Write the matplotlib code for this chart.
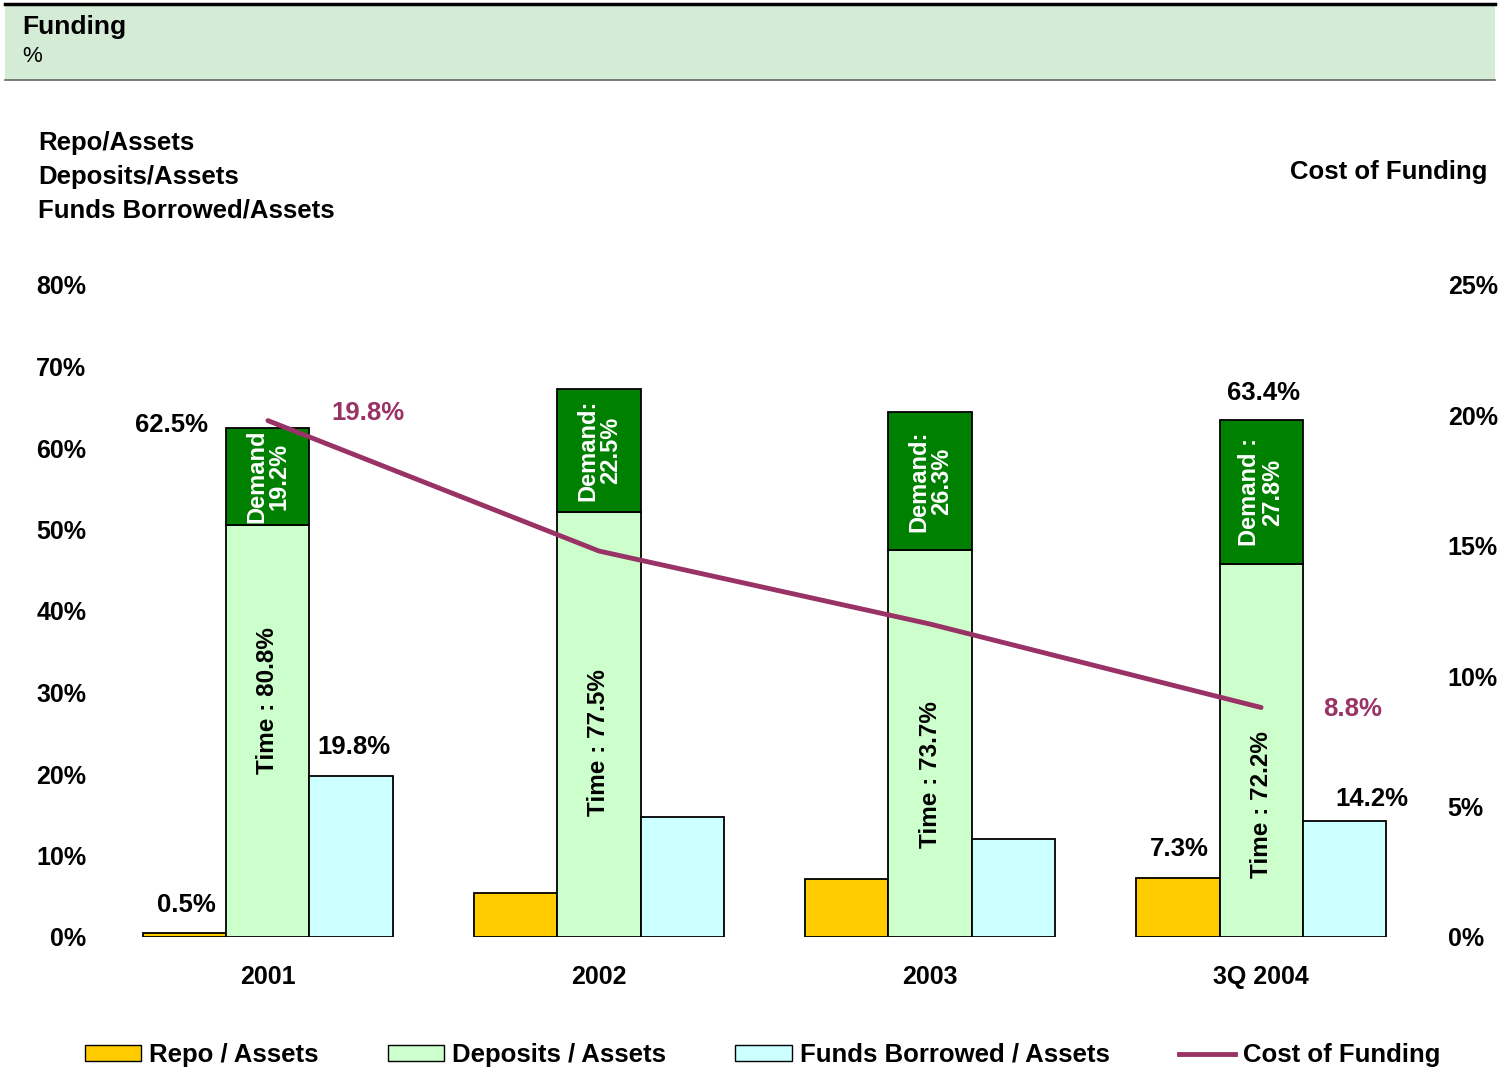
import matplotlib.pyplot as plt
from matplotlib.patches import Patch, Rectangle
from matplotlib.lines import Line2D
import numpy as np

plt.rcParams['font.family'] = ['Liberation Sans', 'DejaVu Sans']
plt.rcParams['font.weight'] = 'bold'

years = ["2001", "2002", "2003", "3Q 2004"]
repo = [0.5, 5.4, 7.1, 7.3]
deposits = [62.5, 67.3, 64.4, 63.4]
time_share = [80.8, 77.5, 73.7, 72.2]
demand_share = [19.2, 22.5, 26.3, 27.8]
borrowed = [19.8, 14.7, 12.0, 14.2]
cost = [19.8, 14.8, 12.0, 8.8]

time_part = [d * t / 100 for d, t in zip(deposits, time_share)]
demand_part = [d - t for d, t in zip(deposits, time_part)]

c_repo = "#FFCC00"
c_time = "#CCFFCC"
c_demand = "#008000"
c_borrow = "#CCFFFF"
c_line = "#993366"

fig = plt.figure(figsize=(15.01, 10.70), dpi=100)

# header band
fig.patches.append(Rectangle((5 / 1501, 1 - 80 / 1070), 1490 / 1501, 77 / 1070,
                             transform=fig.transFigure, facecolor="#D4EBD6",
                             edgecolor="none", zorder=0))
fig.add_artist(Line2D([5 / 1501, 1495 / 1501], [1 - 3.5 / 1070] * 2, color="black", lw=2.5))
fig.add_artist(Line2D([5 / 1501, 1495 / 1501], [1 - 80 / 1070] * 2, color="#666666", lw=1.2))
fig.text(22 / 1501, 1 - 27 / 1070, "Funding", fontsize=19, fontweight="bold", va="center")
fig.text(22 / 1501, 1 - 57 / 1070, "%", fontsize=16, fontweight="normal", va="center")

ax = fig.add_axes([110 / 1501, 133 / 1070, 1310 / 1501, 652 / 1070])
ax2 = ax.twinx()

x = np.arange(len(years))
w = 0.251
ec = dict(edgecolor="black", linewidth=1.3)
ax.bar(x - w, repo, w, color=c_repo, **ec)
ax.bar(x, time_part, w, color=c_time, **ec)
ax.bar(x, demand_part, w, bottom=time_part, color=c_demand, **ec)
ax.bar(x + w, borrowed, w, color=c_borrow, **ec)

ax.set_xlim(-0.477, 3.48)
ax.set_ylim(0, 80)
ax2.set_ylim(0, 25)
ax.set_yticks(np.arange(0, 81, 10))
ax.set_yticklabels([f"{v}%" for v in range(0, 81, 10)])
ax2.set_yticks(np.arange(0, 26, 5))
ax2.set_yticklabels([f"{v}%" for v in range(0, 26, 5)])
ax.set_xticks(x)
ax.set_xticklabels(years)
ax.tick_params(axis="y", length=0, pad=17, labelsize=18)
ax2.tick_params(axis="y", length=0, pad=20, labelsize=18)
ax.tick_params(axis="x", length=0, pad=20, labelsize=18)
for a in (ax, ax2):
    for s in a.spines.values():
        s.set_visible(False)
    a.patch.set_visible(False)

ax2.plot(x, cost, color=c_line, lw=3.5, solid_capstyle="round")

# demand labels
demand_txt = ["Demand\n19.2%", "Demand:\n22.5%", "Demand:\n26.3%", "Demand :\n27.8%"]
for i in range(len(years)):
    ax.text(x[i], time_part[i] + demand_part[i] / 2, demand_txt[i], rotation=90,
            ha="center", va="center", color="white", fontsize=17, linespacing=1.0)

# time labels
time_y = [29.0, 23.9, 19.9, 16.2]
for i in range(len(years)):
    ax.text(x[i], time_y[i], f"Time : {time_share[i]}%", rotation=90,
            ha="center", va="center", color="black", fontsize=17.5)

fs = 18.5
ax.text(x[0] - 0.29, deposits[0] + 0.3, f"{deposits[0]}%", ha="center", va="center", fontsize=fs)
ax.text(x[0] - 0.245, repo[0] + 3.4, f"{repo[0]}%", ha="center", va="center", fontsize=fs)
ax.text(x[0] + 0.26, borrowed[0] + 3.5, f"{borrowed[0]}%", ha="center", va="center", fontsize=fs)
ax.text(x[3] + 0.006, deposits[3] + 3.3, f"{deposits[3]}%", ha="center", va="center", fontsize=fs)
ax.text(x[3] - 0.248, repo[3] + 3.5, f"{repo[3]}%", ha="center", va="center", fontsize=fs)
ax.text(x[3] + 0.335, borrowed[3] + 2.7, f"{borrowed[3]}%", ha="center", va="center", fontsize=fs)
ax2.text(x[0] + 0.302, cost[0] + 0.3, f"{cost[0]}%", ha="center", va="center", fontsize=fs, color=c_line)
ax2.text(x[3] + 0.275, cost[3] - 0.05, f"{cost[3]}%", ha="center", va="center", fontsize=fs, color=c_line)

# axis titles
for k, t in enumerate(["Repo/Assets", "Deposits/Assets", "Funds Borrowed/Assets"]):
    fig.text(38 / 1501, 1 - (143 + 34 * k) / 1070, t, fontsize=18.5, va="center")
fig.text(1487 / 1501, 1 - 172 / 1070, "Cost of Funding", fontsize=18.5, va="center", ha="right")

handles = [
    Patch(facecolor=c_repo, edgecolor="black", label="Repo / Assets"),
    Patch(facecolor=c_time, edgecolor="black", label="Deposits / Assets"),
    Patch(facecolor=c_borrow, edgecolor="black", label="Funds Borrowed / Assets"),
    Line2D([], [], color=c_line, lw=3.5, label="Cost of Funding"),
]
fig.legend(handles=handles, loc="center", bbox_to_anchor=(0.508, 1 - 1055 / 1070), ncol=4,
           frameon=False, fontsize=18.5, handlelength=2.2, handleheight=0.55,
           handletextpad=0.3, columnspacing=2.7)

fig.savefig("out.png", dpi=100)
